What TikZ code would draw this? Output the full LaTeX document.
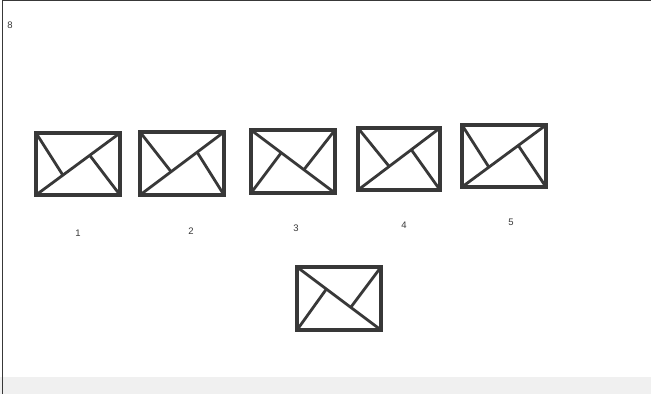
\documentclass[tikz,border=0pt]{standalone}
\usepackage{fontspec}
\setsansfont{Liberation Sans}
\usetikzlibrary{calc}
\definecolor{ink}{HTML}{383838}
\tikzset{
  envbox/.style={draw=ink, line width=3.6pt, inner sep=0pt, outer sep=0pt, fill=white},
  fold/.style={draw=ink, line width=2.8pt},
  lbl/.style={font=\sffamily\fontsize{9.5}{10}\selectfont, text=ink, inner sep=1pt},
  frame/.style={draw=ink, line width=1pt}
}
% diagonal from bottom-left to top-right
\newcommand\envA[7]{%
  \node[envbox, minimum width={(#4-#2)*1pt}, minimum height={(#5-#3)*1pt}] (#1) at ({(#2+#4)/2},{(#3+#5)/2}) {};
  \coordinate (#1p) at ($(#1.south west)!#6!(#1.north east)$);
  \coordinate (#1q) at ($(#1.south west)!#7!(#1.north east)$);
  \draw[fold] (#1.south west) -- (#1.north east);
  \draw[fold] (#1.north west) -- (#1p);
  \draw[fold] (#1q) -- (#1.south east);
}
% diagonal from top-left to bottom-right
\newcommand\envB[7]{%
  \node[envbox, minimum width={(#4-#2)*1pt}, minimum height={(#5-#3)*1pt}] (#1) at ({(#2+#4)/2},{(#3+#5)/2}) {};
  \coordinate (#1p) at ($(#1.north west)!#6!(#1.south east)$);
  \coordinate (#1q) at ($(#1.north west)!#7!(#1.south east)$);
  \draw[fold] (#1.north west) -- (#1.south east);
  \draw[fold] (#1.south west) -- (#1p);
  \draw[fold] (#1q) -- (#1.north east);
}
\begin{document}
\begin{tikzpicture}[x=1pt,y=-1pt]
\useasboundingbox (0,0) rectangle (651,394);
\fill[white] (0,0) rectangle (651,394);
\fill[gray!12] (0,377) rectangle (651,394);
\coordinate (ftl) at (2,0.5);
\coordinate (fbl) at (2,394);
\coordinate (ftr) at (651,0.5);
\draw[frame] (fbl) -- (ftl) -- (ftr);
\node[lbl] (num) at (10,25) {8};

\envA{e1}{36}{133}{120}{195}{0.32}{0.64}
\envA{e2}{140}{132}{224}{195}{0.37}{0.68}
\envB{e3}{251}{130}{335}{193}{0.36}{0.63}
\envA{e4}{358}{128}{440}{190}{0.38}{0.65}
\envA{e5}{462}{125}{546}{187}{0.32}{0.67}
\envB{e6}{297}{267}{381}{330}{0.35}{0.64}

\node[lbl] (l1) at (78,233) {1};
\node[lbl] (l2) at (191,231) {2};
\node[lbl] (l3) at (296,228) {3};
\node[lbl] (l4) at (404,225) {4};
\node[lbl] (l5) at (511,222) {5};
\end{tikzpicture}
\end{document}
